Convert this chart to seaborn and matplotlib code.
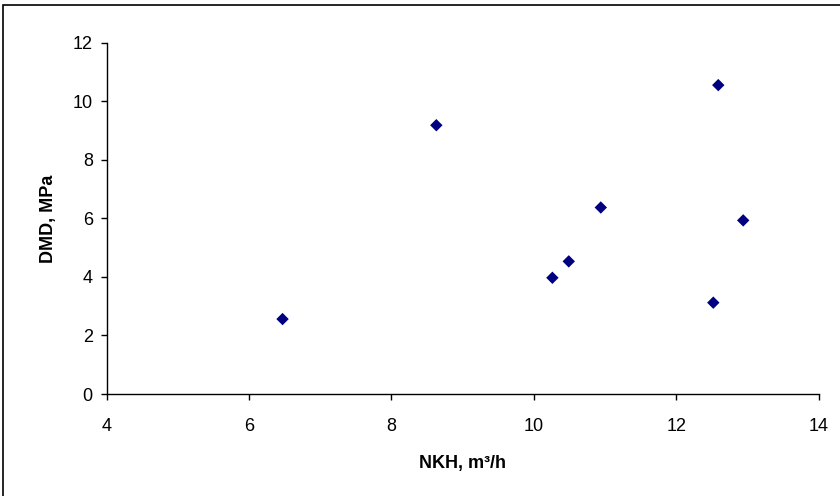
import pandas as pd
import matplotlib.pyplot as plt
import seaborn as sns
from matplotlib.patches import Rectangle

# Data
nkh = [6.47, 8.63, 10.26, 10.49, 10.94, 12.59, 12.52, 12.94]
dmd = [2.56, 9.18, 3.97, 4.53, 6.37, 10.55, 3.12, 5.93]
x_ticks = [4, 6, 8, 10, 12, 14]
y_ticks = [0, 2, 4, 6, 8, 10, 12]

df = pd.DataFrame({'NKH': nkh, 'DMD': dmd})

sns.set_style('ticks')
plt.rcParams['font.family'] = ['Liberation Sans', 'DejaVu Sans']

fig = plt.figure(figsize=(8.4, 4.96), dpi=100)
ax = fig.add_axes([0.127, 0.2056, 0.8476, 0.7084])

sns.scatterplot(data=df, x='NKH', y='DMD', marker='D', s=40,
                color='#000080', edgecolor='none', ax=ax)

ax.set_xlim(4, 14)
ax.set_ylim(0, 12)
ax.set_xticks(x_ticks)
ax.set_yticks(y_ticks)
ax.tick_params(labelsize=13, length=4, width=1, color='black',
               labelcolor='black')
ax.tick_params(axis='x', pad=13)
ax.tick_params(axis='y', pad=6)
for s in ['top', 'right']:
    ax.spines[s].set_visible(False)
for s in ['left', 'bottom']:
    ax.spines[s].set_color('black')
    ax.spines[s].set_linewidth(1)

ax.set_xlabel('NKH, m\u00b3/h', fontsize=13, fontweight='bold', labelpad=15,
              color='black')
ax.set_ylabel('DMD, MPa', fontsize=13, fontweight='bold', labelpad=11,
              color='black')

# outer frame (cut off at right and bottom edge like the reference)
fig.patches.append(Rectangle((3 / 840, -0.1), 1.2, 1.1 - 5 / 496,
                             transform=fig.transFigure, fill=False,
                             edgecolor='black', linewidth=1.2))

fig.savefig('out.png', dpi=100)
